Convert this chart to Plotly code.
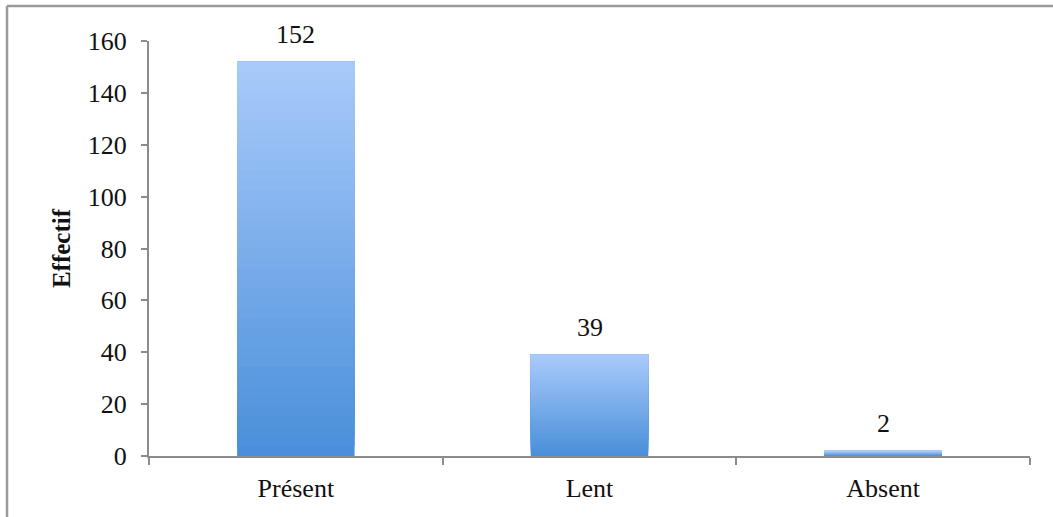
import plotly.graph_objects as go

categories = ["Présent", "Lent", "Absent"]
values = [152, 39, 2]
y_ticks = [0, 20, 40, 60, 80, 100, 120, 140, 160]
y_title = "Effectif"

FONT = "Liberation Serif, Times New Roman, serif"
FS = 26
top_rgb = (168, 202, 250)
bot_rgb = (74, 143, 218)
N = 40

W, H = 1053, 517
L, T, R, B = 149, 41, 23, 61
PW, PH = W - L - R, H - T - B

fig = go.Figure()
for k in range(N):
    f = k / (N - 1)
    c = tuple(round(b + (t - b) * f) for b, t in zip(bot_rgb, top_rgb))
    bases = [v * k / N for v in values]
    heights = [v - b for v, b in zip(values, bases)]
    fig.add_trace(go.Bar(
        x=categories, y=heights, base=bases,
        marker=dict(color="rgb(%d,%d,%d)" % c, line=dict(width=0)),
        hoverinfo="skip", showlegend=False,
    ))

for cat, v in zip(categories, values):
    fig.add_annotation(x=cat, y=v, text=str(v), showarrow=False, yshift=27,
                       font=dict(family=FONT, size=FS, color="#111"))

# outer frame (partially visible)
bx = (7 - L) / PW
by = 1 + (T - 6) / PH
for x0, y0, x1, y1 in [(bx, by, bx, -0.3), (bx, by, 1.1, by)]:
    fig.add_shape(type="line", xref="paper", yref="paper", x0=x0, y0=y0, x1=x1, y1=y1,
                  line=dict(color="#9a9a9a", width=2.5))

fig.update_layout(
    width=W, height=H,
    margin=dict(l=L, r=R, t=T, b=B, pad=0),
    paper_bgcolor="white", plot_bgcolor="white",
    barmode="overlay", bargap=0.6,
    font=dict(family=FONT, size=FS, color="#111"),
)
fig.update_xaxes(
    showline=True, linecolor="#8c8c8c", linewidth=2,
    ticks="outside", tickson="boundaries", ticklen=7, tickcolor="#8c8c8c", tickwidth=2,
    ticklabelstandoff=8, showgrid=False,
    tickfont=dict(family=FONT, size=FS, color="#111"),
)
fig.update_yaxes(
    range=[0, 160], tickvals=y_ticks, showline=True, linecolor="#8c8c8c", linewidth=2,
    ticks="outside", ticklen=6, tickcolor="#8c8c8c", tickwidth=2, showgrid=False, zeroline=False,
    ticklabelstandoff=9,
    tickfont=dict(family=FONT, size=FS, color="#111"),
    title=dict(text="<b>" + y_title + "</b>", font=dict(family=FONT, size=25, color="#111"), standoff=10),
)
fig.write_html("out.html", config={"displayModeBar": False},
               post_script="document.body.style.margin='0';")
